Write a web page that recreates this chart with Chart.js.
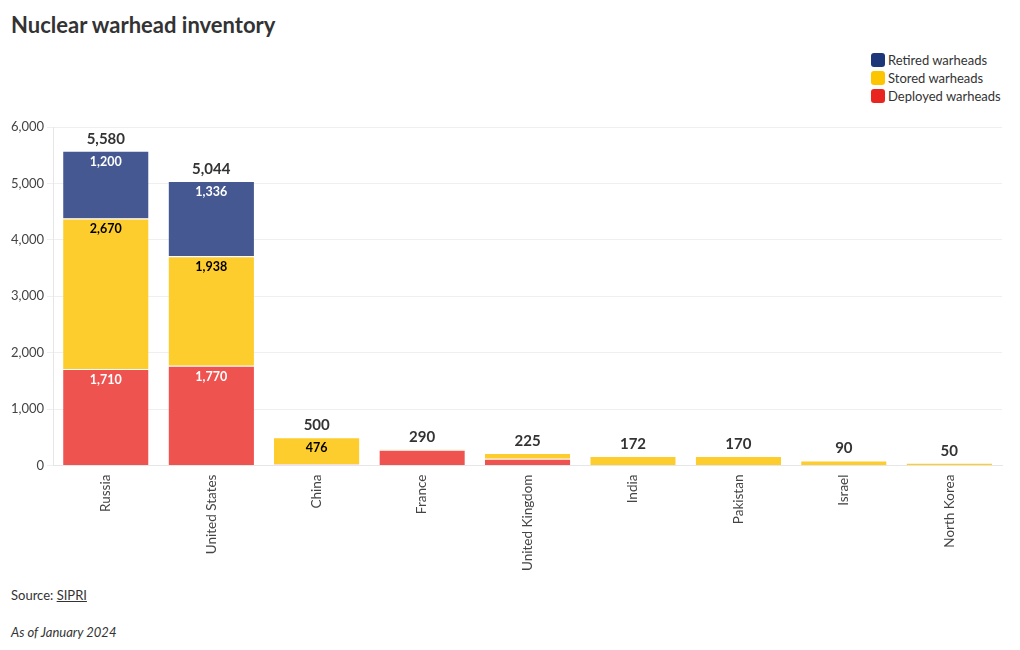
<!DOCTYPE html>
<html>
<head>
<meta charset="utf-8">
<script src="https://cdn.jsdelivr.net/npm/chart.js@4.4.1/dist/chart.umd.min.js"></script>
<style>
  body { margin: 0; width: 1020px; height: 650px; background: #fff; font-family: Lato, sans-serif; color: #333; position: relative; overflow: hidden; }
  #title { position: absolute; left: 11px; top: 11px; font-size: 22px; font-weight: 700; color: #333; }
  #legend { position: absolute; left: 871px; top: 51px; font-size: 13px; color: #333; }
  .item { height: 18px; line-height: 18px; display: flex; align-items: center; }
  .box { width: 14px; height: 14px; border-radius: 3px; margin-right: 3px; }
  #wrap { position: absolute; left: 0; top: 110px; width: 1020px; height: 464px; }
  #source { position: absolute; left: 11px; top: 587px; font-size: 13px; }
  #source u { text-decoration: underline; }
  #note { position: absolute; left: 11px; top: 624px; font-size: 13px; font-style: italic; }
</style>
</head>
<body>
<div id="title">Nuclear warhead inventory</div>
<div id="legend"></div>
<div id="wrap"><canvas id="chart"></canvas></div>
<div id="source">Source: <u>SIPRI</u></div>
<div id="note">As of January 2024</div>
<script>
let countries = ["Russia", "United States", "China", "France", "United Kingdom", "India", "Pakistan", "Israel", "North Korea"];
let deployed = [1710, 1770, 24, 280, 120, 0, 0, 0, 0];
let stored = [2670, 1938, 476, 10, 105, 172, 170, 90, 50];
let retired = [1200, 1336, 0, 0, 0, 0, 0, 0, 0];
let yTicks = [0, 1000, 2000, 3000, 4000, 5000, 6000];

let seriesNames = ["Deployed warheads", "Stored warheads", "Retired warheads"];
let barColors = ["#ef5350", "#fdcd2e", "#455891"];
let legendColors = ["#e8261f", "#fdc400", "#1d3778"];
let labelColors = ["#ffffff", "#000000", "#ffffff"];

// legend, retired on top like the original
let legend = document.getElementById("legend");
for (let i = seriesNames.length - 1; i >= 0; i--) {
    let row = document.createElement("div");
    row.className = "item";
    row.innerHTML = '<div class="box" style="background:' + legendColors[i] + '"></div>' + seriesNames[i];
    legend.appendChild(row);
}

function fmt(v) {
    return v.toLocaleString("en-US");
}

// value labels inside segments and totals above bars
const barLabels = {
    id: "barLabels",
    afterDatasetsDraw(chart) {
        let ctx = chart.ctx;
        ctx.save();
        ctx.textAlign = "center";
        ctx.textBaseline = "middle";
        let tops = [];
        chart.data.datasets.forEach(function (ds, di) {
            let meta = chart.getDatasetMeta(di);
            meta.data.forEach(function (bar, i) {
                let v = ds.data[i];
                if (v > 0 && (tops[i] === undefined || bar.y < tops[i].y)) {
                    tops[i] = { y: bar.y, x: bar.x };
                }
                if (v >= 400) {
                    ctx.font = "bold 12.5px Lato, sans-serif";
                    ctx.fillStyle = labelColors[di];
                    ctx.fillText(fmt(v), bar.x, bar.y + 11);
                }
            });
        });
        ctx.font = "bold 15px Lato, sans-serif";
        ctx.fillStyle = "#333";
        for (let i = 0; i < countries.length; i++) {
            if (!tops[i]) continue;
            let total = deployed[i] + stored[i] + retired[i];
            ctx.fillText(fmt(total), tops[i].x, tops[i].y - 12);
        }
        ctx.restore();
    }
};

let sets = [deployed, stored, retired].map(function (d, i) {
    return {
        label: seriesNames[i],
        data: d,
        backgroundColor: barColors[i],
        borderColor: "#ffffff",
        borderWidth: { top: 1, bottom: 0, left: 0, right: 0 },
        borderSkipped: false,
        categoryPercentage: 1.0,
        barPercentage: 0.81
    };
});

const myChart = new Chart(document.getElementById("chart"), {
    type: "bar",
    data: { labels: countries, datasets: sets },
    plugins: [barLabels],
    options: {
        responsive: true,
        maintainAspectRatio: false,
        animation: false,
        layout: { padding: { left: 8, right: 18, top: 17, bottom: 0 } },
        plugins: {
            legend: { display: false },
            tooltip: { enabled: false }
        },
        scales: {
            x: {
                stacked: true,
                grid: { display: false, drawOnChartArea: false, tickLength: 6, color: "#e6e6e6" },
                border: { color: "#e6e6e6" },
                ticks: {
                    color: "#444",
                    font: { family: "Lato", size: 13.5 },
                    minRotation: 90,
                    maxRotation: 90,
                    padding: 3
                }
            },
            y: {
                stacked: true,
                min: 0,
                max: 6000,
                afterBuildTicks: function (axis) {
                    axis.ticks = yTicks.map(function (v) { return { value: v }; });
                },
                grid: { color: "#efefef", tickLength: 6 },
                border: { color: "#e6e6e6" },
                ticks: {
                    color: "#444",
                    font: { family: "Lato", size: 13 },
                    padding: 3,
                    callback: function (v) { return fmt(v); }
                }
            }
        }
    }
});
</script>
</body>
</html>
